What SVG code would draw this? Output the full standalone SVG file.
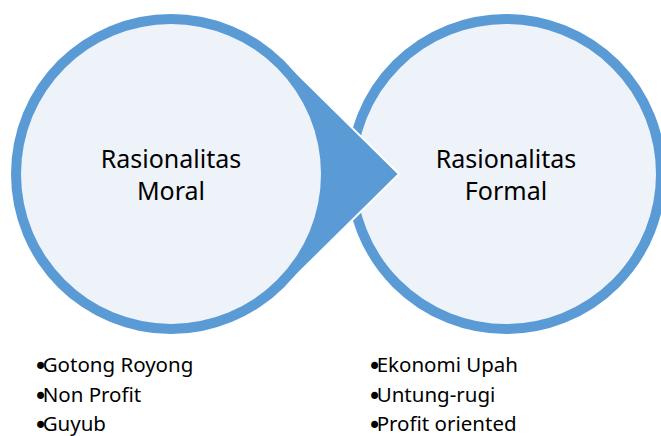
<svg xmlns="http://www.w3.org/2000/svg" width="661" height="436" viewBox="0 0 661 436">
  <style>
    .ring { fill: #5B9BD5; }
    .disc { fill: #EEF3FA; }
    .circle { fill: #EEF3FA; stroke: #5B9BD5; stroke-width: 10; }
    .arrow { fill: #5B9BD5; stroke: #FFFFFF; stroke-width: 2; stroke-linejoin: miter; }
    .title { font-family: "Noto Sans", "Open Sans", sans-serif; font-size: 25px; fill: #000000; text-anchor: middle; }
    .item { font-family: "Noto Sans", "Open Sans", sans-serif; font-size: 20.5px; fill: #000000; }
    .dot { font-family: "DejaVu Sans", sans-serif; font-size: 24px; letter-spacing: -5px; }
  </style>
  <rect width="661" height="436" fill="#FFFFFF"/>

  <!-- Right node: formal rationality -->
  <g id="node-formal">
    <circle class="circle" cx="506" cy="174" r="155"/>
    <text class="title" x="506" y="168">Rasionalitas</text>
    <text class="title" x="506" y="200">Formal</text>
    <text class="item" x="367.5" y="372"><tspan class="dot" dy="2.5">•</tspan><tspan dy="-2.5">Ekonomi Upah</tspan></text>
    <text class="item" x="367.5" y="402"><tspan class="dot" dy="2.5">•</tspan><tspan dy="-2.5">Untung-rugi</tspan></text>
    <text class="item" x="367.5" y="431"><tspan class="dot" dy="2.5">•</tspan><tspan dy="-2.5">Profit oriented</tspan></text>
  </g>

  <!-- Pointer from the left circle into the right circle -->
  <g id="connectors">
    <path class="arrow" d="M283.4,60.1 L399,174 L283.4,287.9 Z"/>
  </g>

  <!-- Left node: moral rationality -->
  <g id="node-moral">
    <circle class="ring" cx="171" cy="174" r="160"/>
    <circle class="disc" cx="171" cy="174" r="150"/>
    <text class="title" x="171" y="168">Rasionalitas</text>
    <text class="title" x="171" y="200">Moral</text>
    <text class="item" x="33.5" y="372"><tspan class="dot" dy="2.5">•</tspan><tspan dy="-2.5">Gotong Royong</tspan></text>
    <text class="item" x="33.5" y="402"><tspan class="dot" dy="2.5">•</tspan><tspan dy="-2.5">Non Profit</tspan></text>
    <text class="item" x="33.5" y="431"><tspan class="dot" dy="2.5">•</tspan><tspan dy="-2.5">Guyub</tspan></text>
  </g>
</svg>
